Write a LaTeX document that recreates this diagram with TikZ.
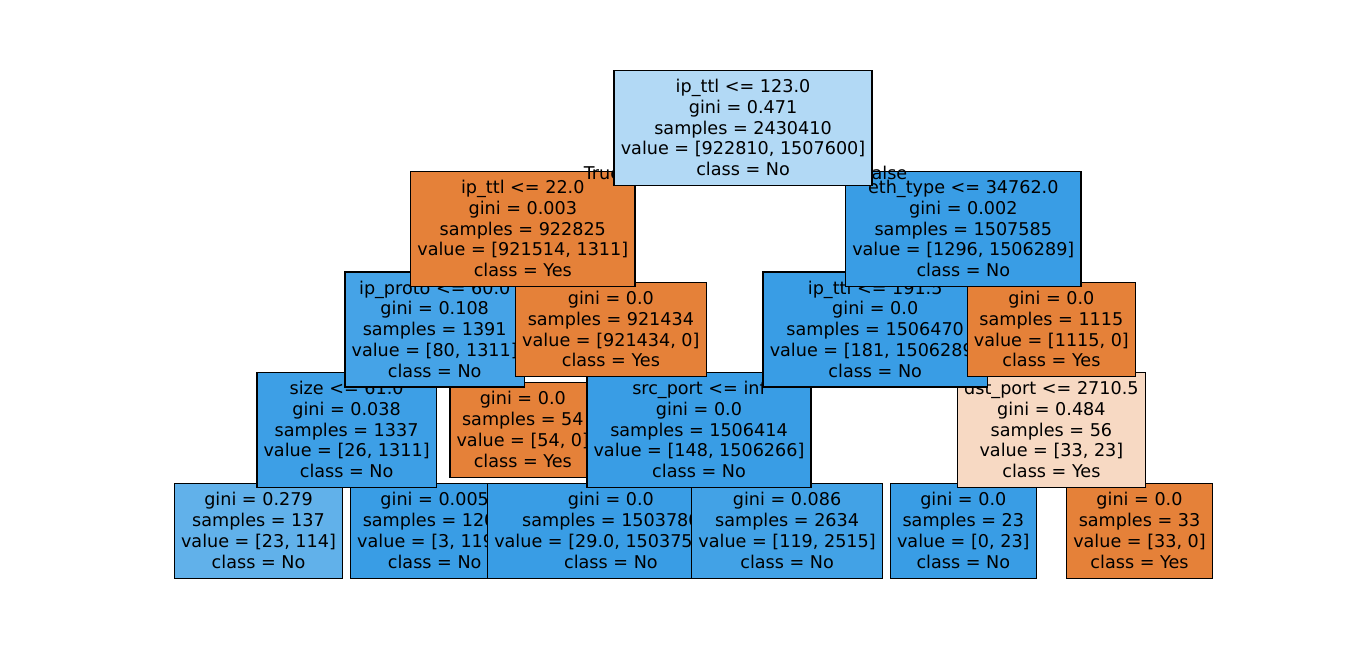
\documentclass[tikz,border=0pt]{standalone}
\usepackage{fontspec}
\setmainfont{DejaVu Sans}
\definecolor{cor}{RGB}{229,129,57}
\definecolor{cbl}{RGB}{57,157,229}
\definecolor{croot}{RGB}{178,217,245}
\definecolor{cipp}{RGB}{69,163,231}
\definecolor{csize}{RGB}{61,159,230}
\definecolor{cgA}{RGB}{97,177,234}
\definecolor{cgB}{RGB}{66,162,230}
\definecolor{cdst}{RGB}{247,217,195}
\newcommand\tstrut{\rule{0pt}{13.92pt}}
\tikzset{
  tbox/.style={draw=black, line width=1pt, align=center, inner xsep=5pt, inner ysep=2.7pt,
    font=\fontsize{13.2}{15.6}\selectfont},
  edgelbl/.style={inner sep=0pt, font=\fontsize{13.2}{15.6}\selectfont}
}
\begin{document}
\begin{tikzpicture}[x=0.75pt, y=-0.75pt]
\useasboundingbox (0,0) rectangle (1364,653);
\def\gx#1{258.5+176.2*#1}
% depth 4
\node[tbox, fill=cgA] (n3) at ({\gx{0}},531) {\tstrut gini = 0.279\\ samples = 137\\ value = [23, 114]\\ class = No\strut};
\node[tbox, fill=cbl] (n4) at ({\gx{1}},531) {\tstrut gini = 0.005\\ samples = 1200\\ value = [3, 1197]\\ class = No\strut};
\node[tbox, fill=cbl] (n9) at ({\gx{2}},531) {\tstrut gini = 0.0\\ samples = 1503780\\ value = [29.0, 1503751.0]\\ class = No\strut};
\node[tbox, fill=cgB] (n10) at ({\gx{3}},531) {\tstrut gini = 0.086\\ samples = 2634\\ value = [119, 2515]\\ class = No\strut};
\node[tbox, fill=cbl] (n12) at ({\gx{4}},531) {\tstrut gini = 0.0\\ samples = 23\\ value = [0, 23]\\ class = No\strut};
\node[tbox, fill=cor] (n13) at ({\gx{5}},531) {\tstrut gini = 0.0\\ samples = 33\\ value = [33, 0]\\ class = Yes\strut};
% depth 3
\node[tbox, fill=csize] (n2) at ({\gx{0.5}},430) {\tstrut size <= 61.0\\ gini = 0.038\\ samples = 1337\\ value = [26, 1311]\\ class = No\strut};
\node[tbox, fill=cor] (n5) at ({\gx{1.5}},430) {\tstrut gini = 0.0\\ samples = 54\\ value = [54, 0]\\ class = Yes\strut};
\node[tbox, fill=cbl] (n8) at ({\gx{2.5}},430) {\tstrut src\_port <= inf\\ gini = 0.0\\ samples = 1506414\\ value = [148, 1506266]\\ class = No\strut};
\node[tbox, fill=cdst] (n11) at ({\gx{4.5}},430) {\tstrut dst\_port <= 2710.5\\ gini = 0.484\\ samples = 56\\ value = [33, 23]\\ class = Yes\strut};
% depth 2
\node[tbox, fill=cipp] (n1b) at ({\gx{1}},329.5) {\tstrut ip\_proto <= 60.0\\ gini = 0.108\\ samples = 1391\\ value = [80, 1311]\\ class = No\strut};
\node[tbox, fill=cor] (n6) at ({\gx{2}},329.5) {\tstrut gini = 0.0\\ samples = 921434\\ value = [921434, 0]\\ class = Yes\strut};
\node[tbox, fill=cbl] (n7) at ({\gx{3.5}},329.5) {\tstrut ip\_ttl <= 191.5\\ gini = 0.0\\ samples = 1506470\\ value = [181, 1506289]\\ class = No\strut};
\node[tbox, fill=cor] (n14) at ({\gx{4.5}},329.5) {\tstrut gini = 0.0\\ samples = 1115\\ value = [1115, 0]\\ class = Yes\strut};
% depth 1
\node[tbox, fill=cor] (L1) at ({\gx{1.5}},229) {\tstrut ip\_ttl <= 22.0\\ gini = 0.003\\ samples = 922825\\ value = [921514, 1311]\\ class = Yes\strut};
\node[tbox, fill=cbl] (R1) at ({\gx{4}},229) {\tstrut eth\_type <= 34762.0\\ gini = 0.002\\ samples = 1507585\\ value = [1296, 1506289]\\ class = No\strut};
% edge labels
\node[edgelbl, anchor=base west] (ltrue) at (583.5,179) {True};
\node[edgelbl, anchor=base east] (lfalse) at (907.5,179) {False};
% root
\node[tbox, fill=croot] (root) at ({\gx{2.75}},128) {\tstrut ip\_ttl <= 123.0\\ gini = 0.471\\ samples = 2430410\\ value = [922810, 1507600]\\ class = No\strut};
\end{tikzpicture}
\end{document}
